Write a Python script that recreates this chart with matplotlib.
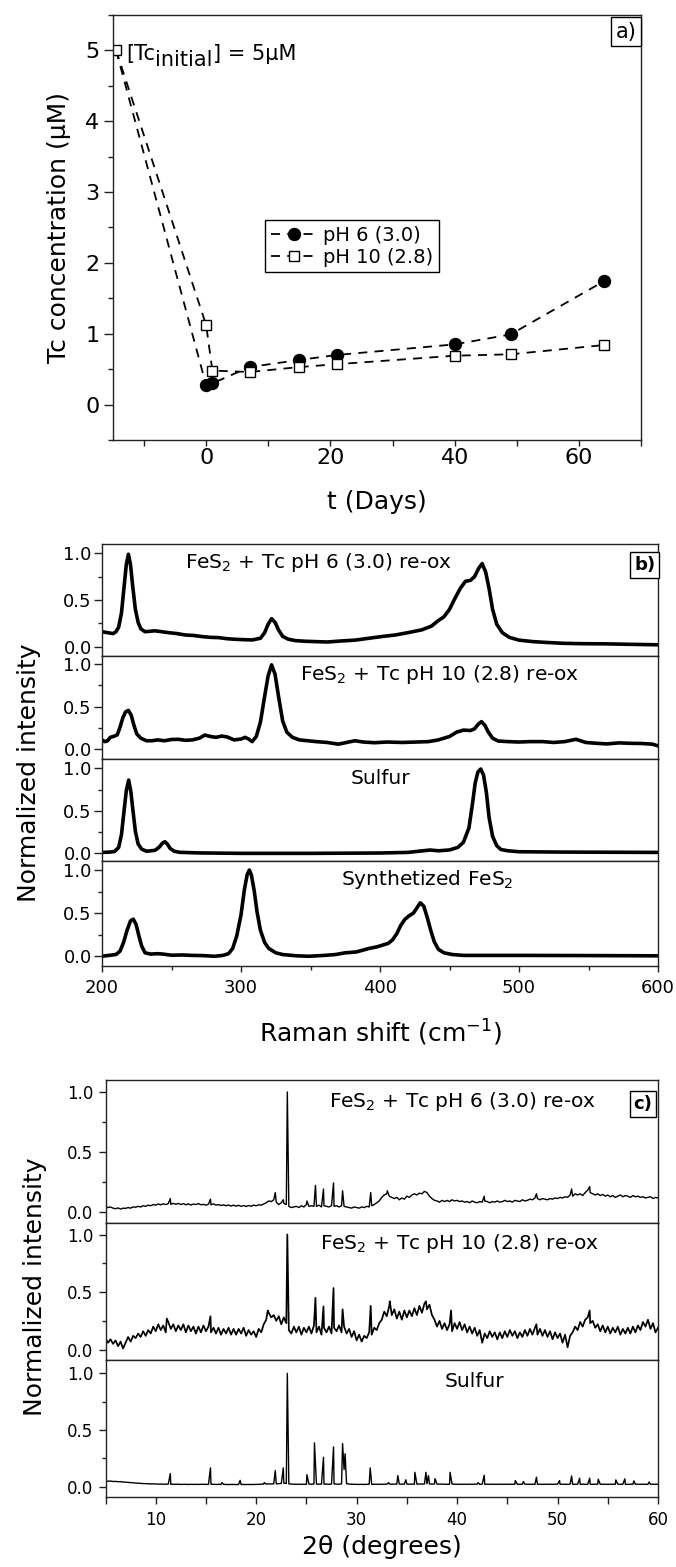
import numpy as np
import matplotlib
matplotlib.use("Agg")
import matplotlib.pyplot as plt
from matplotlib.ticker import MultipleLocator, FormatStrFormatter

# a) dissolved Tc vs time
days = [-14.5, 0, 1, 7, 15, 21, 40, 49, 64]
tc_ph6 = [5.0, 0.27, 0.30, 0.53, 0.63, 0.70, 0.85, 0.99, 1.74]
tc_ph10 = [5.0, 1.12, 0.48, 0.46, 0.53, 0.57, 0.69, 0.71, 0.84]

# b) Raman spectra, (shift cm-1, normalized intensity)
raman_ph6 = [(200, 0.16), (204, 0.15), (208, 0.14), (210, 0.16), (212, 0.21), (214, 0.36),
             (216, 0.66), (217.5, 0.88), (219, 0.99), (220.5, 0.88), (222, 0.66), (224, 0.40),
             (226, 0.26), (228, 0.19), (231, 0.16), (238, 0.17), (248, 0.15), (254, 0.14),
             (260, 0.125), (266, 0.12), (272, 0.108), (278, 0.10), (284, 0.097), (290, 0.085),
             (296, 0.079), (302, 0.075), (308, 0.072), (314, 0.09), (317, 0.15), (319.5, 0.24),
             (322, 0.30), (324.5, 0.26), (327, 0.18), (330, 0.11), (334, 0.08), (339, 0.065),
             (346, 0.058), (354, 0.054), (362, 0.05), (372, 0.061), (382, 0.07), (392, 0.09),
             (402, 0.11), (411, 0.125), (420, 0.15), (430, 0.18), (437, 0.22), (442, 0.28),
             (446, 0.32), (450, 0.40), (454, 0.52), (458, 0.63), (461.5, 0.70), (465, 0.71),
             (468, 0.75), (471, 0.84), (473.5, 0.89), (476, 0.80), (478.5, 0.62), (481, 0.40),
             (484, 0.24), (488, 0.15), (493, 0.10), (500, 0.07), (510, 0.054), (520, 0.045),
             (532, 0.036), (545, 0.032), (563, 0.03), (580, 0.025), (600, 0.02)]
raman_ph10 = [(200, 0.11), (202, 0.09), (204, 0.10), (206, 0.14), (209, 0.155), (211, 0.17),
              (213, 0.26), (215, 0.37), (217, 0.44), (219, 0.455), (221, 0.40), (223, 0.28),
              (225, 0.18), (228, 0.13), (232, 0.10), (236, 0.10), (240, 0.11), (245, 0.10),
              (250, 0.115), (255, 0.117), (260, 0.105), (265, 0.11), (270, 0.13), (274, 0.167),
              (278, 0.15), (282, 0.14), (286, 0.155), (290, 0.145), (295, 0.11), (300, 0.12),
              (303, 0.14), (305.5, 0.12), (308, 0.09), (311, 0.15), (314, 0.32), (317, 0.62),
              (319.5, 0.86), (322, 0.99), (324.5, 0.88), (327, 0.62), (330, 0.33), (333, 0.20),
              (337, 0.14), (342, 0.11), (348, 0.10), (354, 0.09), (362, 0.08), (370, 0.06),
              (376, 0.08), (382, 0.10), (388, 0.085), (396, 0.077), (405, 0.085), (416, 0.08),
              (426, 0.085), (435, 0.09), (442, 0.11), (450, 0.15), (455, 0.20), (460, 0.225),
              (465, 0.22), (468, 0.24), (471, 0.30), (473, 0.324), (475.5, 0.28), (478, 0.20),
              (481, 0.13), (485, 0.097), (492, 0.09), (500, 0.085), (508, 0.09), (517, 0.09),
              (525, 0.08), (533, 0.09), (541, 0.117), (548, 0.08), (556, 0.07), (563, 0.063),
              (572, 0.075), (580, 0.07), (588, 0.068), (596, 0.06), (600, 0.04)]
raman_sulfur = [(200, 0.011), (206, 0.015), (209, 0.022), (212, 0.07), (214, 0.22), (216, 0.52),
                (217.5, 0.74), (219.2, 0.862), (220.8, 0.72), (222.3, 0.50), (224, 0.26),
                (226, 0.11), (228.5, 0.05), (232, 0.025), (238, 0.035), (241, 0.07),
                (243.5, 0.12), (245.2, 0.137), (247, 0.11), (249, 0.058), (252, 0.025),
                (256, 0.012), (270, 0.005), (300, 0.0), (350, 0.0), (400, 0.004), (420, 0.011),
                (428, 0.025), (436, 0.039), (442, 0.03), (450, 0.04), (456, 0.07), (460, 0.13),
                (464, 0.30), (466.5, 0.58), (468.5, 0.83), (470.5, 0.96), (472.5, 0.992),
                (474.5, 0.92), (476.5, 0.72), (478.5, 0.42), (481, 0.20), (484, 0.09),
                (487, 0.045), (492, 0.03), (500, 0.019), (530, 0.015), (600, 0.011)]
raman_fes2 = [(200, 0.0), (205, 0.01), (210, 0.02), (213, 0.06), (215.5, 0.16), (218, 0.30),
              (220.5, 0.41), (222.5, 0.43), (224.5, 0.37), (226.5, 0.24), (228.5, 0.12),
              (231, 0.04), (235, 0.025), (240, 0.03), (244, 0.025), (250, 0.012), (258, 0.015),
              (265, 0.01), (272, 0.008), (281, 0.0), (287, 0.01), (291, 0.03), (294, 0.09),
              (297, 0.24), (300, 0.48), (302.5, 0.78), (304.5, 0.95), (306, 1.0), (307.5, 0.94),
              (309.5, 0.76), (311.5, 0.52), (314, 0.30), (317, 0.16), (320, 0.09), (325, 0.04),
              (330, 0.02), (340, 0.005), (349, 0.0), (360, 0.01), (368, 0.02), (375, 0.04),
              (383, 0.05), (392, 0.09), (398, 0.11), (402, 0.13), (406, 0.15), (409, 0.19),
              (412, 0.26), (415, 0.36), (418, 0.43), (421, 0.47), (424, 0.50), (426.5, 0.56),
              (429, 0.62), (431.5, 0.58), (434, 0.45), (436.5, 0.30), (439, 0.17), (442, 0.08),
              (446, 0.04), (452, 0.02), (460, 0.01), (500, 0.01), (550, 0.008), (600, 0.005)]

# c) XRD, background read every 0.25 deg from 5 to 60, plus sharp reflections
two_theta = np.arange(5, 60.001, 0.25)

xrd_ph6_bg = [
    0.045, 0.035, 0.040, 0.030,  0.025, 0.032, 0.022, 0.030,  0.028, 0.035, 0.030, 0.040,
    0.038, 0.045, 0.040, 0.050,  0.045, 0.055, 0.050, 0.060,  0.055, 0.065, 0.058, 0.066,
    0.060, 0.068, 0.062, 0.070,  0.062, 0.070, 0.060, 0.068,  0.058, 0.066, 0.056, 0.064,
    0.060, 0.068, 0.058, 0.062,  0.055, 0.063, 0.058, 0.066,  0.055, 0.060, 0.052, 0.058,
    0.050, 0.056, 0.048, 0.055,  0.046, 0.054, 0.045, 0.052,  0.044, 0.052, 0.046, 0.055,
    0.050, 0.058, 0.055, 0.065,  0.075, 0.090, 0.085, 0.100,  0.080, 0.060, 0.075, 0.070,
    0.060, 0.045, 0.035, 0.040,  0.045, 0.035, 0.050, 0.040,  0.060, 0.045, 0.050, 0.045,
    0.045, 0.055, 0.040, 0.050,  0.045, 0.040, 0.050, 0.045,  0.050, 0.040, 0.050, 0.045,
    0.040, 0.035, 0.030, 0.040,  0.035, 0.030, 0.040, 0.035,  0.045, 0.040, 0.050, 0.060,
    0.075, 0.090, 0.120, 0.140,  0.150, 0.130, 0.120, 0.110,  0.120, 0.100, 0.115, 0.105,
    0.130, 0.120, 0.140, 0.150,  0.140, 0.155, 0.150, 0.170,  0.160, 0.130, 0.110, 0.095,
    0.090, 0.080, 0.095, 0.085,  0.095, 0.085, 0.100, 0.090,  0.095, 0.085, 0.090, 0.080,
    0.085, 0.075, 0.090, 0.080,  0.075, 0.085, 0.080, 0.090,  0.085, 0.075, 0.085, 0.080,
    0.090, 0.080, 0.085, 0.095,  0.085, 0.090, 0.080, 0.095,  0.090, 0.085, 0.100, 0.090,
    0.095, 0.105, 0.100, 0.115,  0.110, 0.100, 0.110, 0.105,  0.100, 0.110, 0.105, 0.115,
    0.110, 0.120, 0.115, 0.125,  0.120, 0.140, 0.130, 0.150,  0.140, 0.150, 0.135, 0.160,
    0.180, 0.160, 0.150, 0.140,  0.150, 0.135, 0.145, 0.130,  0.140, 0.125, 0.135, 0.120,
    0.130, 0.140, 0.125, 0.135,  0.130, 0.120, 0.135, 0.125,  0.130, 0.120, 0.125, 0.115,
    0.120, 0.125, 0.110, 0.120,  0.115]
xrd_ph6_pos = [11.45, 15.45, 21.9, 22.7, 23.1, 25.05, 25.9, 26.7, 27.7, 28.6, 31.4, 33.05,
               42.7, 47.9, 51.4, 53.2]
xrd_ph6_int = [0.11, 0.105, 0.16, 0.10, 1.0, 0.09, 0.22, 0.19, 0.24, 0.175, 0.16, 0.175,
               0.13, 0.15, 0.19, 0.21]

xrd_ph10_bg = [
    0.100, 0.060, 0.090, 0.050,  0.080, 0.030, 0.070, 0.010,  0.060, 0.110, 0.070, 0.120,
    0.100, 0.140, 0.110, 0.160,  0.120, 0.170, 0.140, 0.200,  0.160, 0.220, 0.170, 0.210,
    0.150, 0.240, 0.180, 0.220,  0.160, 0.210, 0.170, 0.220,  0.150, 0.210, 0.160, 0.200,
    0.140, 0.200, 0.150, 0.210,  0.160, 0.200, 0.150, 0.190,  0.140, 0.190, 0.130, 0.180,
    0.140, 0.190, 0.130, 0.180,  0.130, 0.180, 0.140, 0.190,  0.120, 0.170, 0.130, 0.160,
    0.110, 0.180, 0.150, 0.220,  0.260, 0.320, 0.280, 0.300,  0.250, 0.290, 0.220, 0.280,
    0.230, 0.170, 0.140, 0.200,  0.150, 0.200, 0.130, 0.190,  0.150, 0.200, 0.140, 0.210,
    0.150, 0.200, 0.130, 0.190,  0.150, 0.200, 0.140, 0.190,  0.160, 0.210, 0.150, 0.200,
    0.140, 0.180, 0.110, 0.160,  0.080, 0.130, 0.070, 0.120,  0.100, 0.150, 0.130, 0.190,
    0.170, 0.230, 0.260, 0.330,  0.290, 0.380, 0.300, 0.350,  0.270, 0.330, 0.260, 0.340,
    0.280, 0.340, 0.290, 0.360,  0.300, 0.380, 0.320, 0.400,  0.350, 0.390, 0.300, 0.260,
    0.200, 0.250, 0.180, 0.230,  0.170, 0.220, 0.160, 0.230,  0.180, 0.240, 0.170, 0.220,
    0.150, 0.200, 0.140, 0.190,  0.120, 0.170, 0.060, 0.140,  0.100, 0.160, 0.110, 0.150,
    0.090, 0.150, 0.100, 0.160,  0.110, 0.170, 0.120, 0.160,  0.100, 0.150, 0.110, 0.170,
    0.120, 0.180, 0.130, 0.190,  0.130, 0.180, 0.120, 0.170,  0.110, 0.160, 0.090, 0.150,
    0.100, 0.140, 0.060, 0.130,  0.020, 0.120, 0.150, 0.200,  0.170, 0.240, 0.200, 0.260,
    0.280, 0.230, 0.250, 0.190,  0.220, 0.160, 0.210, 0.150,  0.200, 0.140, 0.190, 0.150,
    0.200, 0.130, 0.180, 0.140,  0.190, 0.140, 0.200, 0.150,  0.210, 0.170, 0.240, 0.200,
    0.260, 0.180, 0.230, 0.150,  0.190]
xrd_ph10_pos = [11.1, 15.45, 21.15, 23.1, 25.9, 26.7, 27.7, 28.6, 31.4, 33.3, 36.9, 39.4,
                47.9, 53.2]
xrd_ph10_int = [0.27, 0.29, 0.34, 1.0, 0.45, 0.375, 0.535, 0.35, 0.38, 0.42, 0.42, 0.34,
                0.22, 0.34]

xrd_sulfur_bg = [
    0.050, 0.047, 0.049, 0.045,  0.046, 0.043, 0.044, 0.040,  0.039, 0.037, 0.035, 0.034,
    0.031, 0.030, 0.028, 0.027,  0.026, 0.025, 0.024, 0.024,  0.023, 0.022, 0.022, 0.021,
    0.021, 0.022, 0.020, 0.021,  0.020, 0.021, 0.019, 0.020,  0.020, 0.019, 0.020, 0.019,
    0.020, 0.019, 0.020, 0.020,  0.019, 0.020, 0.021, 0.020,  0.019, 0.020, 0.019, 0.020,
    0.019, 0.018, 0.019, 0.019,  0.018, 0.019, 0.018, 0.019,  0.018, 0.019, 0.018, 0.019,
    0.019, 0.020, 0.021, 0.022,  0.022, 0.024, 0.023, 0.025,  0.024, 0.026, 0.028, 0.030,
    0.028, 0.024, 0.022, 0.021,  0.020, 0.021, 0.020, 0.021,  0.020, 0.022, 0.021, 0.023,
    0.022, 0.021, 0.022, 0.021,  0.022, 0.021, 0.022, 0.023,  0.022, 0.021, 0.024, 0.150,
    0.026, 0.022, 0.021, 0.020,  0.020, 0.019, 0.020, 0.019,  0.020, 0.021, 0.020, 0.021,
    0.020, 0.021, 0.020, 0.021,  0.021, 0.022, 0.021, 0.022,  0.021, 0.022, 0.021, 0.022,
    0.022, 0.021, 0.022, 0.021,  0.022, 0.023, 0.022, 0.023,  0.024, 0.023, 0.022, 0.023,
    0.022, 0.021, 0.022, 0.021,  0.020, 0.021, 0.022, 0.021,  0.020, 0.021, 0.020, 0.021,
    0.020, 0.021, 0.020, 0.022,  0.021, 0.020, 0.021, 0.020,  0.021, 0.020, 0.021, 0.020,
    0.020, 0.021, 0.020, 0.021,  0.020, 0.021, 0.020, 0.021,  0.020, 0.021, 0.020, 0.021,
    0.021, 0.020, 0.021, 0.020,  0.020, 0.021, 0.020, 0.021,  0.020, 0.021, 0.020, 0.021,
    0.021, 0.020, 0.021, 0.020,  0.020, 0.021, 0.020, 0.021,  0.021, 0.020, 0.021, 0.020,
    0.020, 0.021, 0.020, 0.021,  0.021, 0.020, 0.021, 0.020,  0.020, 0.021, 0.020, 0.021,
    0.021, 0.020, 0.021, 0.020,  0.020, 0.021, 0.020, 0.021,  0.021, 0.020, 0.021, 0.020,
    0.020, 0.021, 0.020, 0.021,  0.021]
xrd_sulfur_pos = [11.45, 15.45, 16.6, 18.4, 20.8, 21.9, 22.7, 23.1, 25.05, 25.8, 26.7, 27.7,
                  28.6, 28.85, 31.35, 33.2, 34.1, 34.9, 35.8, 36.9, 37.15, 37.8, 39.3, 42.1,
                  42.7, 45.8, 46.6, 47.9, 50.2, 51.4, 52.2, 53.2, 54.05, 55.8, 56.7, 57.6, 59.1]
xrd_sulfur_int = [0.115, 0.165, 0.035, 0.055, 0.035, 0.142, 0.165, 1.0, 0.105, 0.386, 0.259,
                  0.35, 0.38, 0.29, 0.165, 0.035, 0.097, 0.06, 0.126, 0.126, 0.097, 0.07,
                  0.126, 0.035, 0.10, 0.053, 0.045, 0.083, 0.053, 0.094, 0.074, 0.074, 0.065,
                  0.059, 0.068, 0.05, 0.04]

spectrum_labels_b = ["FeS$_2$ + Tc pH 6 (3.0) re-ox", "FeS$_2$ + Tc pH 10 (2.8) re-ox",
                     "Sulfur", "Synthetized FeS$_2$"]
spectrum_labels_c = ["FeS$_2$ + Tc pH 6 (3.0) re-ox", "FeS$_2$ + Tc pH 10 (2.8) re-ox",
                     "Sulfur"]

W, H = 676.0, 1567.0
INK = "#222222"


def px_rect(left, top, right, bottom):
    return [left / W, 1 - bottom / H, (right - left) / W, (bottom - top) / H]


def style_axes(ax, labelsize, major, minor, pad):
    for s in ax.spines.values():
        s.set_linewidth(1.0)
        s.set_color(INK)
    ax.tick_params(which="both", direction="out", top=False, right=False,
                   width=1.0, color=INK, labelsize=labelsize, pad=pad)
    ax.tick_params(which="major", length=major)
    ax.tick_params(which="minor", length=minor)


def merge_peaks(grid, background, pos, height):
    x = np.concatenate([grid, pos])
    y = np.concatenate([background, height])
    order = np.argsort(x, kind="stable")
    return x[order], y[order]


fig = plt.figure(figsize=(W / 100, H / 100), dpi=100)

# ---- panel a
ax = fig.add_axes(px_rect(113, 15, 641, 440))
dash = (0, (5, 4))
ax.plot(days, tc_ph6, ls=dash, lw=1.3, color="k", marker="o", ms=8.6,
        mfc="k", mec="k", markevery=list(range(1, len(days))), label="pH 6 (3.0)")
ax.plot(days, tc_ph10, ls=dash, lw=1.3, color="k", marker="s", ms=7.5,
        mfc="white", mec="k", mew=1.0, label="pH 10 (2.8)")
ax.set_xlim(-15, 70)
ax.set_ylim(-0.5, 5.5)
ax.xaxis.set_major_locator(MultipleLocator(20))
ax.xaxis.set_minor_locator(MultipleLocator(10))
ax.yaxis.set_major_locator(MultipleLocator(1))
ax.yaxis.set_minor_locator(MultipleLocator(0.5))
style_axes(ax, 16, 6.5, 3.5, 3.2)
ax.tick_params(axis="x", which="major", length=4, pad=2)
ax.tick_params(axis="x", which="minor", length=4)
ax.set_ylabel("Tc concentration (μM)", fontsize=18)
ax.yaxis.set_label_coords(-0.08, 0.5)
ax.set_xlabel("t (Days)", fontsize=18)
ax.xaxis.set_label_coords(0.5, -0.117)

leg = ax.legend(loc="upper left", bbox_to_anchor=(0.288, 0.518), borderaxespad=0,
                fontsize=14, frameon=True, fancybox=False, edgecolor="k", framealpha=1,
                handlelength=2.4, handletextpad=0.3, borderpad=0.3, labelspacing=0.15)
leg.get_frame().set_linewidth(1.0)

t1 = ax.annotate("[Tc", xy=(days[0], tc_ph10[0]), xytext=(10, -10),
                 textcoords="offset pixels", fontsize=15, va="baseline", ha="left")
t2 = ax.annotate("initial", xy=(1, 0), xycoords=t1, xytext=(0, -6),
                 textcoords="offset pixels", fontsize=15, va="bottom", ha="left")
ax.annotate("] = 5μM", xy=(1, 0), xycoords=t2, xytext=(0, 6),
            textcoords="offset pixels", fontsize=15, va="bottom", ha="left")
ax.text(0.9716, 0.961, "a)", transform=ax.transAxes, fontsize=15, ha="center", va="center",
        bbox=dict(boxstyle="square,pad=0.22", fc="white", ec="k", lw=1.0))

# ---- panel b
b_edges = [544, 656, 759, 861, 966]
b_ylims = [(-0.1, 1.1), (-0.114, 1.094), (-0.09, 1.11), (-0.113, 1.105)]
b_text_xy = [(356, 0.84), (443, 0.81), (400, 0.82), (434, 0.826)]
raman = [raman_ph6, raman_ph10, raman_sulfur, raman_fes2]
for i, spec in enumerate(raman):
    axb = fig.add_axes(px_rect(102, b_edges[i], 658, b_edges[i + 1]))
    xs, ys = np.array(spec).T
    axb.plot(xs, ys, color="k", lw=2.6, solid_joinstyle="round")
    axb.set_xlim(200, 600)
    axb.set_ylim(*b_ylims[i])
    axb.yaxis.set_major_locator(MultipleLocator(0.5))
    axb.yaxis.set_minor_locator(MultipleLocator(0.25))
    axb.yaxis.set_major_formatter(FormatStrFormatter("%.1f"))
    axb.xaxis.set_major_locator(MultipleLocator(100))
    axb.xaxis.set_minor_locator(MultipleLocator(50))
    style_axes(axb, 13, 5.8, 3.2, 1.5)
    axb.tick_params(axis="x", which="major", length=4.5, pad=5)
    axb.tick_params(axis="x", which="minor", length=3)
    if i < len(raman) - 1:
        axb.tick_params(axis="x", which="both", bottom=False, labelbottom=False)
    tx, ty = b_text_xy[i]
    axb.text(tx, ty, spectrum_labels_b[i], fontsize=14.5, ha="center", va="baseline")
    if i == 0:
        axb.text(0.976, 0.8125, "b)", transform=axb.transAxes, fontsize=13, fontweight="bold",
                 ha="center", va="center",
                 bbox=dict(boxstyle="square,pad=0.2", fc="white", ec="k", lw=1.0))
axb.set_xlabel("Raman shift (cm$^{-1}$)", fontsize=18)
axb.xaxis.set_label_coords(0.5, -0.49)
fig.text(29 / W, 1 - 773 / H, "Normalized intensity", fontsize=18, rotation=90,
         ha="center", va="center")

# ---- panel c
c_edges = [1080, 1223, 1360, 1497]
c_ylims = [(-0.094, 1.1), (-0.09, 1.1), (-0.092, 1.118)]
c_text_xy = [(40.5, 0.877), (40.3, 0.87), (41.7, 0.88)]
c_widths = [1.0, 1.25, 1.0]
xrd = [(xrd_ph6_bg, xrd_ph6_pos, xrd_ph6_int),
       (xrd_ph10_bg, xrd_ph10_pos, xrd_ph10_int),
       (xrd_sulfur_bg, xrd_sulfur_pos, xrd_sulfur_int)]
for i, (bg, pos, inten) in enumerate(xrd):
    axc = fig.add_axes(px_rect(105.5, c_edges[i], 658, c_edges[i + 1]))
    xs, ys = merge_peaks(two_theta, bg, pos, inten)
    axc.plot(xs, ys, color="k", lw=c_widths[i])
    axc.set_xlim(5, 60)
    axc.set_ylim(*c_ylims[i])
    axc.yaxis.set_major_locator(MultipleLocator(0.5))
    axc.yaxis.set_minor_locator(MultipleLocator(0.25))
    axc.yaxis.set_major_formatter(FormatStrFormatter("%.1f"))
    axc.xaxis.set_major_locator(MultipleLocator(10))
    axc.xaxis.set_minor_locator(MultipleLocator(5))
    style_axes(axc, 12, 4.8, 3.0, 4)
    axc.tick_params(axis="x", which="both", length=4.8, pad=5)
    if i < len(xrd) - 1:
        axc.tick_params(axis="x", which="both", bottom=False, labelbottom=False)
    tx, ty = c_text_xy[i]
    axc.text(tx, ty, spectrum_labels_c[i], fontsize=14.5, ha="center", va="baseline")
    if i == 0:
        axc.text(0.9725, 0.8325, "c)", transform=axc.transAxes, fontsize=13, fontweight="bold",
                 ha="center", va="center",
                 bbox=dict(boxstyle="square,pad=0.2", fc="white", ec="k", lw=1.0))
axc.set_xlabel("2θ (degrees)", fontsize=18)
axc.xaxis.set_label_coords(0.5, -0.277)
fig.text(35 / W, 1 - 1287 / H, "Normalized intensity", fontsize=18, rotation=90,
         ha="center", va="center")

fig.savefig("out.png", dpi=100)
